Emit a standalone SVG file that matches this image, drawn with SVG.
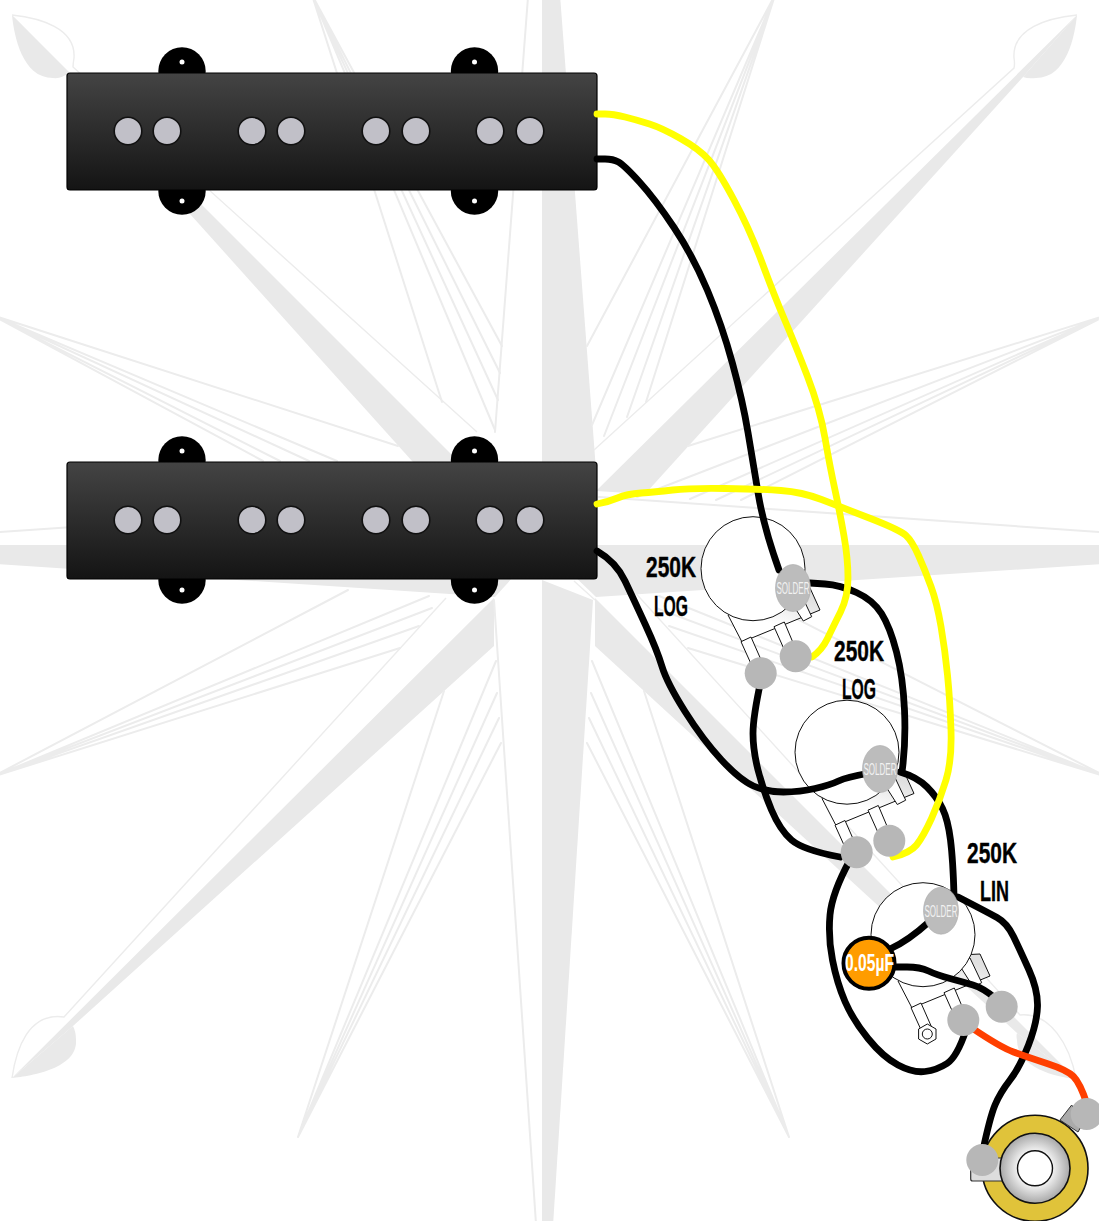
<svg xmlns="http://www.w3.org/2000/svg" width="1099" height="1221" viewBox="0 0 1099 1221">
<style>
.bg{fill:#e9e9e9}
.thin{fill:none;stroke:#ececec;stroke-width:2;stroke-linecap:round}
.hair{fill:none;stroke:#ececec;stroke-width:1.4}
.cover{fill:url(#cover);stroke:#000;stroke-width:1.2;stroke-linejoin:round}
.ear{fill:#000}
.hole{fill:#fff}
.pole{fill:#c1c0c8;stroke:#111;stroke-width:1.6}
.body{fill:url(#potbody);stroke:#111;stroke-width:1}
.lug{fill:#fff;stroke:#111;stroke-width:1}
.can{fill:#fff;stroke:#111;stroke-width:1}
.blob{fill:#b7b7b7}
.solder{fill:#bcbcbc;stroke:#aaa;stroke-width:.6}
.wire{fill:none;stroke-width:6.800;stroke-linecap:round;stroke-linejoin:round}
.k{stroke:#000}.y{stroke:#ff0}.r{stroke:#ff3f00}
.lbl{font-family:"Liberation Sans Narrow","Liberation Sans",sans-serif;font-weight:700;font-size:30px;fill:#000;stroke:#000;stroke-width:.4}
.st{font-family:"Liberation Sans Narrow","Liberation Sans",sans-serif;font-size:16px;fill:#f2f2f2;text-anchor:middle}
</style>
<defs>
<linearGradient id="cover" x1="0" y1="0" x2="0" y2="1"><stop offset="0" stop-color="#444"/><stop offset="1" stop-color="#141414"/></linearGradient>
<linearGradient id="potbody" x1="0.2" y1="1" x2="0.75" y2="0.1"><stop offset="0.4" stop-color="#fff"/><stop offset="1" stop-color="#e0e0e0"/></linearGradient>
<radialGradient id="ring"><stop offset="0.5" stop-color="#f2f2f2"/><stop offset="1" stop-color="#a8a8a8"/></radialGradient>
<g id="pot">
<polygon class="body" points="728,615 742,642 820,610 810,588 770,590"/>
<polygon class="lug" points="788,597 800,592 811.700,616.700 803.300,621"/>
<polygon class="lug" points="741,641.700 751,637 762,662 752,666"/>
<polygon class="lug" points="774,626.700 784.300,622 794,645 784,649"/>
<circle class="can" cx="753" cy="568.700" r="52"/>
</g>
<g id="pickup">
<circle class="ear" cx="182" cy="71" r="23.700"/><circle class="ear" cx="182" cy="191" r="23.700"/>
<circle class="ear" cx="474.500" cy="71" r="23.700"/><circle class="ear" cx="474.500" cy="191" r="23.700"/>
<circle class="hole" cx="182" cy="62" r="2.500"/><circle class="hole" cx="182" cy="201" r="2.500"/>
<circle class="hole" cx="474.500" cy="62" r="2.500"/><circle class="hole" cx="474.500" cy="201" r="2.500"/>
<rect class="cover" x="67" y="73" width="530" height="117" rx="3"/>
<circle class="pole" cx="128" cy="131" r="13.800"/><circle class="pole" cx="167" cy="131" r="13.800"/>
<circle class="pole" cx="252" cy="131" r="13.800"/><circle class="pole" cx="291" cy="131" r="13.800"/>
<circle class="pole" cx="376" cy="131" r="13.800"/><circle class="pole" cx="416" cy="131" r="13.800"/>
<circle class="pole" cx="490" cy="131" r="13.800"/><circle class="pole" cx="530" cy="131" r="13.800"/>
</g>
</defs>
<rect width="1099" height="1221" fill="#fff"/>
<g id="compass-rose">
<polygon class="bg" points="542,-5 560,-5 596,470 542,545"/>
<polygon class="bg" points="542,580 593,600 553,1226 542,1226"/>
<polygon class="bg" points="-5,545 -5,564 495,597 542,545"/>
<polygon class="bg" points="1104,545 1104,564 596,597 542,545"/>
<polygon class="bg" points="12,15 475,478 430,481 190,214"/>
<polygon class="bg" points="1077,15 596,491 645,494 1023,77"/>
<polygon class="bg" points="12,1078 494,598 494,646 73,1026"/>
<polygon class="bg" points="1076,1079 595,598 595,646 1017,1033"/>
<path class="bg" d="M12 15C14 35 22 78 53 78Q62 79 68 73Z"/>
<path class="bg" d="M1077 15C1075 35 1067 78 1036 78Q1028 79 1023 77Z"/>
<path class="bg" d="M12 1078C32 1076 78 1068 76 1040Q76 1032 73 1026Z"/>
<path class="bg" d="M1076 1079C1056 1077 1017 1068 1017 1040Q1016 1036 1017 1033Z"/>
<path class="hair" d="M12 15C40 18 76 28 74 58Q73 64 73 67L477 432"/>
<path class="hair" d="M1077 15C1048 18 1012 28 1014 58Q1015 64 1014 68L594 450"/>
<path class="hair" d="M12 1078C16 1050 28 1012 64 1017L446 598"/>
<path class="hair" d="M1076 1079C1070 1045 1050 1012 1020 1015L610 565"/>
<path class="hair" d="M574 581L595 600"/>
<path class="thin" d="M528 -3L495 432M536 1224L494 600M0 532L495 498M1099 532L599 497"/>
<path class="thin" d="M-8 315L398 446M-8 315L337 461M-8 315L309 461M-8 315L280 461M-8 315L263 461"/>
<path class="thin" d="M1107 315L688 446M1107 315L637 497M1107 315L690 499M1107 315L716 500M1107 315L741 500"/>
<path class="thin" d="M-8 777L348 590M-8 777L429 596M-8 777L432 608M-8 777L419 626M-8 777L400 648"/>
<path class="thin" d="M1107 777L740 590M1107 777L659 596M1107 777L656 608M1107 777L669 626M1107 777L688 648"/>
<path class="thin" d="M298 1137L444 691M298 1137L496 661M298 1137L497 693M298 1137L499 718M298 1137L501 743"/>
<path class="thin" d="M789 1137L644 691M789 1137L592 661M789 1137L591 693M789 1137L589 718M789 1137L587 743"/>
<path class="thin" d="M312 -5L442 402M312 -5L495 430M312 -5L498 400M312 -5L500 373M312 -5L502 346"/>
<path class="thin" d="M775 -5L646 402M775 -5L627 417M775 -5L604 436M775 -5L592 425M775 -5L587 346"/>
</g>
<g id="pickup-neck"><use href="#pickup"/></g>
<g id="pickup-bridge"><use href="#pickup" transform="translate(0,389)"/></g>
<g id="pot-volume-1"><use href="#pot"/></g>
<g id="pot-volume-2"><use href="#pot" transform="translate(94,183.500)"/></g>
<g id="pot-tone"><use href="#pot" transform="translate(170,366)"/>
<polygon points="927.300,1024 936,1029 936,1039 927.300,1044 918.600,1039 918.600,1029" fill="#fff" stroke="#111" stroke-width="1"/>
<circle cx="927.300" cy="1034" r="5" fill="#fff" stroke="#111" stroke-width="1"/>
</g>
<g id="jack">
<polygon points="1060,1120 1071.700,1105 1083,1123 1078,1132" fill="#aaa" stroke="#333" stroke-width="1"/>
<circle cx="1035" cy="1168.300" r="53" fill="#e0c33a" stroke="#111" stroke-width="1.600"/>
<rect x="970.700" y="1158" width="36" height="23" rx="2" fill="#ddd" stroke="#333" stroke-width="1.200"/>
<circle cx="1035" cy="1168.300" r="35" fill="url(#ring)" stroke="#111" stroke-width="1.600"/>
<circle cx="1035" cy="1168.300" r="17.500" fill="#fff" stroke="#111" stroke-width="1.400"/>
</g>
<g id="connectors">
<path class="wire k" d="M597 159L605 159Q613 159 618.500 162Q624 165 639.500 182Q655 199 674 227.500Q693 256 707.500 290.500Q722 325 732.500 363.500Q743 402 748 432.500Q753 463 758.500 495.500Q764 528 779 570"/>
<path class="wire k" d="M597 551Q616 562 625 581Q634 600 645.500 625Q657 650 662 666.500Q667 683 685 711.500Q703 740 721.500 760Q740 780 753.500 786Q767 792 783.500 792Q800 792 815 788.500Q830 785 838.500 781Q847 777 870 773"/>
<path class="wire k" d="M810 583L825 584Q840 585 856.500 592.500Q873 600 881.500 613.500Q890 627 896.500 652Q903 677 904.500 710Q906 743 902 772"/>
<path class="wire k" d="M761 680Q753 717 753 733.500Q753 750 758 770Q763 790 771.500 810Q780 830 791.500 840Q803 850 840 857"/>
<path class="wire k" d="M900 772Q917 777 927 787Q937 797 942.500 808.500Q948 820 950.500 840Q953 860 954 895"/>
<path class="wire k" d="M958 897Q987 912 997 917.500Q1007 923 1013.500 936.500Q1020 950 1029 970Q1038 990 1037.500 1006.500Q1037 1023 1028.500 1045Q1020 1067 1010 1080Q1000 1093 995 1105Q990 1117 983 1150"/>
<path class="wire k" d="M850 860Q832 893 830 915Q828 937 832.500 960Q837 983 845 1001.500Q853 1020 868 1038.500Q883 1057 898 1065Q913 1073 925 1071.500Q937 1070 947 1063.500Q957 1057 966 1030"/>
<path class="wire k" d="M890 949Q908 941 930 921"/>
<path class="wire k" d="M895 967L907 967Q920 967 928.500 971Q937 975 950 978.500Q963 982 973 985Q983 988 995 998"/>
<path class="wire r" d="M972 1028Q1000 1047 1013.500 1052Q1027 1057 1047 1063.500Q1067 1070 1073.500 1076.500Q1080 1083 1087 1104"/>
<path class="wire y" d="M597 504Q608 502 617.500 498Q627 494 641 493Q655 492 672.500 490Q690 488 725 488.500Q760 489 781 490.500Q802 492 821.500 499.500Q841 507 870.500 518.500Q900 530 906 535.500Q912 541 918.500 555.500Q925 570 931 586.500Q937 603 941 626.500Q945 650 947.500 675Q950 700 951 730Q952 760 946 780Q940 800 931.500 818.500Q923 837 916.500 845Q910 853 893 857"/>
<path class="wire y" d="M597 114L605 114Q613 114 625 117Q637 120 649.500 124Q662 128 680.500 138.500Q699 149 708.500 159.500Q718 170 734 200Q750 230 762 262.500Q774 295 784.500 319.500Q795 344 807.500 376.500Q820 409 825 438Q830 467 835 490Q840 513 844 536Q848 559 848 578Q848 597 840.500 612Q833 627 827.500 638.500Q822 650 812 657"/>
</g>
<g id="solder-volume-1">
<ellipse class="solder" cx="793" cy="588" rx="17.500" ry="23.500"/>
<text class="st" x="793" y="594" textLength="33" lengthAdjust="spacingAndGlyphs">SOLDER</text>
<circle class="blob" cx="760.700" cy="673.300" r="16"/><circle class="blob" cx="795.700" cy="656.300" r="16"/>
</g>
<g id="solder-volume-2">
<ellipse class="solder" cx="880" cy="769" rx="17.500" ry="23.500"/>
<text class="st" x="880" y="775" textLength="33" lengthAdjust="spacingAndGlyphs">SOLDER</text>
<circle class="blob" cx="856.700" cy="852.300" r="16"/><circle class="blob" cx="889.300" cy="840.700" r="16"/>
</g>
<g id="solder-tone">
<ellipse class="solder" cx="941" cy="910.700" rx="17.500" ry="23.500"/>
<text class="st" x="941" y="916.700" textLength="33" lengthAdjust="spacingAndGlyphs">SOLDER</text>
<circle class="blob" cx="963.300" cy="1020" r="16"/><circle class="blob" cx="1001.700" cy="1006.700" r="16"/>
</g>
<g id="jack-lugs">
<circle class="blob" cx="982.300" cy="1160" r="16"/><circle class="blob" cx="1086.700" cy="1114" r="16"/>
</g>
<g id="capacitor">
<circle cx="869" cy="963.300" r="25.500" fill="#ff9c00" stroke="#000" stroke-width="4"/>
<text x="845" y="971" textLength="49" lengthAdjust="spacingAndGlyphs" style="font-family:'Liberation Sans Narrow','Liberation Sans',sans-serif;font-weight:700;font-size:23px;fill:#fff">0.05µF</text>
</g>
<g id="labels">
<text class="lbl" x="646" y="577" textLength="50" lengthAdjust="spacingAndGlyphs">250K</text>
<text class="lbl" x="654" y="616" textLength="34" lengthAdjust="spacingAndGlyphs">LOG</text>
<text class="lbl" x="834" y="661" textLength="50" lengthAdjust="spacingAndGlyphs">250K</text>
<text class="lbl" x="842" y="699" textLength="34" lengthAdjust="spacingAndGlyphs">LOG</text>
<text class="lbl" x="967" y="863" textLength="50" lengthAdjust="spacingAndGlyphs">250K</text>
<text class="lbl" x="980" y="901" textLength="29" lengthAdjust="spacingAndGlyphs">LIN</text>
</g>
</svg>
